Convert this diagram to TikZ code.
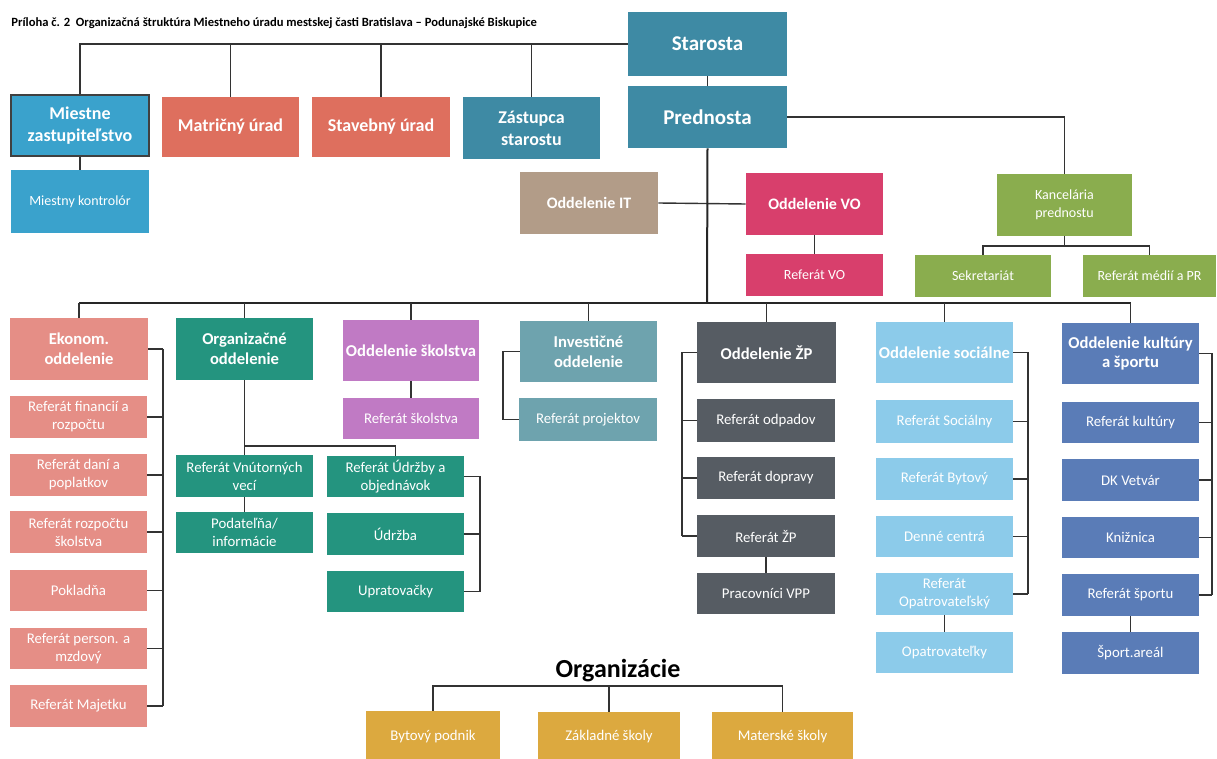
\documentclass[tikz,border=0pt]{standalone}
\usepackage{fontspec}
\setmainfont{Carlito}
\usetikzlibrary{calc}
\definecolor{cStar}{HTML}{3E8AA4}
\definecolor{cMiest}{HTML}{3AA2CC}
\definecolor{cSalm}{HTML}{DE6F5E}
\definecolor{cTan}{HTML}{B29C88}
\definecolor{cVO}{HTML}{D83F6C}
\definecolor{cGreen}{HTML}{8AAD4E}
\definecolor{cEkon}{HTML}{E58E86}
\definecolor{cOrg}{HTML}{24947F}
\definecolor{cSkol}{HTML}{C07AC4}
\definecolor{cInv}{HTML}{6EA3AE}
\definecolor{cZP}{HTML}{565C63}
\definecolor{cSoc}{HTML}{8CCBEA}
\definecolor{cKult}{HTML}{5A7CB7}
\definecolor{cYel}{HTML}{DCA93F}
\tikzset{
  box/.style={inner sep=0pt, text=white, align=center, font=\fontsize{7.4}{9}\selectfont},
  big/.style={font=\fontsize{10.5}{12}\selectfont\bfseries},
  mid/.style={font=\fontsize{9}{11}\selectfont\bfseries},
  semi/.style={font=\fontsize{8}{10}\selectfont\bfseries},
  dept/.style={font=\fontsize{8.3}{9.8}\selectfont\bfseries},
  small/.style={font=\fontsize{7}{9}\selectfont},
  ln/.style={draw=black!80, line width=0.7pt},
  thk/.style={draw=black!85, line width=1pt}
}
\newcommand\bx[7]{\node[box,#6,minimum width={(#4-#2)*0.5pt},minimum height={(#5-#3)*0.5pt}] (#1) at ({(#2+#4)/2},{(#3+#5)/2}) {#7};}
\begin{document}
\begin{tikzpicture}[x=0.5pt,y=-0.5pt]
\useasboundingbox[fill=white] (0,0) rectangle (1217,759);
% title
\node[anchor=west, inner sep=0pt, font=\fontsize{6.3}{7}\selectfont\bfseries] (title) at (11,23) {Príloha č. 2\ \ Organizačná štruktúra Miestneho úradu mestskej časti Bratislava – Podunajské Biskupice};
% top tier
\bx{starosta}{628}{12}{787}{76}{fill=cStar,big}{Starosta}
\bx{prednosta}{628}{86}{787}{148}{fill=cStar,big}{Prednosta}
\bx{miestne}{11}{95}{149}{156}{fill=cMiest,draw=black!75,line width=0.8pt,mid}{Miestne\\zastupiteľstvo}
\bx{matricny}{162}{97}{299}{157}{fill=cSalm,mid}{Matričný úrad}
\bx{stavebny}{312}{97}{450}{157}{fill=cSalm,mid}{Stavebný úrad}
\bx{zastupca}{463}{97}{600}{159}{fill=cStar,mid}{Zástupca\\starostu}
\bx{kontrolor}{11}{170}{149}{233}{fill=cMiest,small}{Miestny kontrolór}
\bx{it}{520}{172}{658}{234}{fill=cTan,semi}{Oddelenie IT}
\bx{vo}{746}{173}{883}{235}{fill=cVO,semi}{Oddelenie VO}
\bx{refvo}{746}{254}{883}{296}{fill=cVO,small}{Referát VO}
\bx{kanc}{997}{174}{1132}{236}{fill=cGreen,small}{Kancelária\\prednostu}
\bx{sekr}{915}{255}{1051}{297}{fill=cGreen,small}{Sekretariát}
\bx{media}{1083}{255}{1216}{297}{fill=cGreen,small}{Referát médií a PR}
% second tier
\bx{ekon}{10}{318}{148}{380}{fill=cEkon,dept}{Ekonom.\\oddelenie}
\bx{org}{176}{318}{313}{380}{fill=cOrg,dept}{Organizačné\\oddelenie}
\bx{skol}{343}{320}{479}{381}{fill=cSkol,dept}{Oddelenie školstva}
\bx{inv}{520}{321}{657}{382}{fill=cInv,dept}{Investičné\\oddelenie}
\bx{zp}{697}{322}{836}{383}{fill=cZP,dept}{Oddelenie ŽP}
\bx{soc}{876}{322}{1013}{383}{fill=cSoc,dept}{Oddelenie sociálne}
\bx{kult}{1062}{323}{1199}{384}{fill=cKult,dept}{Oddelenie kultúry\\a športu}
% Ekonom subs
\bx{e1}{10}{396}{147}{438}{fill=cEkon}{Referát financií a\\rozpočtu}
\bx{e2}{10}{454}{147}{496}{fill=cEkon}{Referát daní a\\poplatkov}
\bx{e3}{10}{511}{147}{553}{fill=cEkon}{Referát rozpočtu\\školstva}
\bx{e4}{10}{570}{147}{611}{fill=cEkon}{Pokladňa}
\bx{e5}{10}{628}{147}{669}{fill=cEkon}{Referát person. a\\mzdový}
\bx{e6}{10}{685}{147}{727}{fill=cEkon}{Referát Majetku}
% Organizacne subs
\bx{vnut}{176}{455}{313}{497}{fill=cOrg}{Referát Vnútorných\\vecí}
\bx{podat}{176}{512}{313}{553}{fill=cOrg}{Podateľňa/\\informácie}
\bx{udrzobj}{327}{456}{464}{497}{fill=cOrg}{Referát Údržby a\\objednávok}
\bx{udrzba}{327}{513}{464}{555}{fill=cOrg}{Údržba}
\bx{uprat}{327}{571}{464}{612}{fill=cOrg}{Upratovačky}
% skolstvo, investicne
\bx{skolref}{343}{398}{479}{439}{fill=cSkol}{Referát školstva}
\bx{projekt}{519}{398}{657}{441}{fill=cInv}{Referát projektov}
% ZP
\bx{odpad}{697}{399}{835}{442}{fill=cZP}{Referát odpadov}
\bx{doprava}{697}{457}{835}{499}{fill=cZP}{Referát dopravy}
\bx{refzp}{697}{515}{835}{557}{fill=cZP}{Referát ŽP}
\bx{vpp}{697}{573}{835}{614}{fill=cZP}{Pracovníci VPP}
% socialne
\bx{s1}{876}{400}{1013}{443}{fill=cSoc}{Referát Sociálny}
\bx{s2}{876}{458}{1013}{500}{fill=cSoc}{Referát Bytový}
\bx{s3}{876}{516}{1013}{557}{fill=cSoc}{Denné centrá}
\bx{s4}{876}{573}{1013}{615}{fill=cSoc}{Referát\\Opatrovateľský}
\bx{s5}{876}{632}{1013}{673}{fill=cSoc}{Opatrovateľky}
% kultura
\bx{k1}{1062}{402}{1199}{443}{fill=cKult}{Referát kultúry}
\bx{k2}{1062}{459}{1199}{501}{fill=cKult}{DK Vetvár}
\bx{k3}{1062}{517}{1199}{558}{fill=cKult}{Knižnica}
\bx{k4}{1062}{574}{1199}{616}{fill=cKult}{Referát športu}
\bx{k5}{1062}{632}{1199}{674}{fill=cKult}{Šport.areál}
% organizacie
\node[inner sep=0pt, font=\fontsize{13}{14}\selectfont\bfseries] (orgtitle) at (618,671) {Organizácie};
\bx{bytovy}{366}{711}{500}{762}{fill=cYel}{Bytový podnik}
\bx{zakl}{538}{712}{680}{762}{fill=cYel}{Základné školy}
\bx{mat}{712}{712}{853}{762}{fill=cYel}{Materské školy}
% coordinates
\coordinate (bus) at (707,303);
\coordinate (ekb) at (163,0);
\coordinate (orgbus) at (0,446);
\coordinate (udb) at (480,0);
\coordinate (invb) at (503,0);
\coordinate (zpb) at (682,0);
\coordinate (socb) at (1028,0);
\coordinate (kulb) at (1212,0);
\coordinate (kancb) at (0,246);
\coordinate (orgl) at (0,686);
% top connectors
\draw[ln] (starosta.west) -- (miestne.north |- starosta.west) -- (miestne.north);
\foreach \n in {matricny,stavebny,zastupca} \draw[ln] (\n.north) -- (\n.north |- starosta.west);
\draw[ln] (starosta.south) -- (prednosta.north);
\draw[ln] (miestne.south) -- (kontrolor.north);
\draw[ln] (prednosta.east) -| (kanc.north);
\draw[ln] (kanc.south) -- (kanc.south |- kancb);
\draw[ln] (sekr.north) -- (sekr.north |- kancb) -- (media.north |- kancb) -- (media.north);
\draw[ln] (it.east) -- (vo.west);
\draw[ln] (vo.south) -- (refvo.north);
% main trunk and bus
\draw[thk] (prednosta.south) -- (bus);
\draw[thk] (ekon.north |- bus) -- (kult.north |- bus);
\foreach \n in {ekon,org,skol,inv,zp,soc,kult} \draw[ln] (\n.north) -- (\n.north |- bus);
% Ekonom bracket
\draw[ln] (ekb |- ekon.east) -- (ekb |- e6.east);
\foreach \n in {ekon,e1,e2,e3,e4,e5,e6} \draw[ln] (\n.east) -- (ekb |- \n.east);
% Organizacne
\draw[ln] (org.south) -- (vnut.north);
\draw[ln] (org.south |- orgbus) -| (udrzobj.north);
\draw[ln] (vnut.south) -- (podat.north);
\draw[ln] (udb |- udrzobj.east) -- (udb |- uprat.east);
\foreach \n in {udrzobj,udrzba,uprat} \draw[ln] (\n.east) -- (udb |- \n.east);
% skolstvo
\draw[ln] (skol.south) -- (skolref.north);
% investicne
\draw[ln] (inv.west) -- (invb |- inv.west) -- (invb |- projekt.west) -- (projekt.west);
% ZP
\draw[ln] (zpb |- zp.west) -- (zpb |- refzp.west);
\foreach \n in {zp,odpad,doprava,refzp} \draw[ln] (\n.west) -- (zpb |- \n.west);
\draw[ln] (refzp.south) -- (vpp.north);
% socialne
\draw[ln] (socb |- soc.east) -- (socb |- s4.east);
\foreach \n in {soc,s1,s2,s3,s4} \draw[ln] (\n.east) -- (socb |- \n.east);
\draw[ln] (s4.south) -- (s5.north);
% kultura
\draw[ln] (kulb |- kult.east) -- (kulb |- k4.east);
\foreach \n in {kult,k1,k2,k3,k4} \draw[ln] (\n.east) -- (kulb |- \n.east);
\draw[ln] (k4.south) -- (k5.north);
% organizacie
\draw[ln] (bytovy.north) -- (bytovy.north |- orgl) -- (mat.north |- orgl) -- (mat.north);
\draw[ln] (zakl.north) -- (zakl.north |- orgl);
\end{tikzpicture}
\end{document}
